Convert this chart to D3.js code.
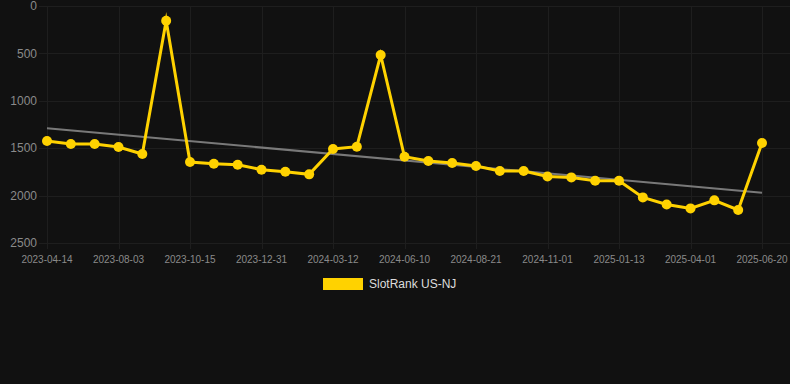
<!DOCTYPE html>
<html>
<head>
<meta charset="utf-8">
<script src="https://cdn.jsdelivr.net/npm/d3@7"></script>
<style>
  body { margin: 0; background: #111111; }
  svg { display: block; font-family: "Liberation Sans", Arial, sans-serif; }
</style>
</head>
<body>
<svg id="chart"></svg>
<script>
// dates of each rank snapshot (every third one is labelled on the axis)
const dates = [
  "2023-04-14", "2023-05-21", "2023-06-27", "2023-08-03", "2023-08-27", "2023-09-20",
  "2023-10-15", "2023-11-10", "2023-12-05", "2023-12-31", "2024-01-24", "2024-02-17",
  "2024-03-12", "2024-04-11", "2024-05-11", "2024-06-10", "2024-07-04", "2024-07-28",
  "2024-08-21", "2024-09-14", "2024-10-08", "2024-11-01", "2024-11-25", "2024-12-19",
  "2025-01-13", "2025-02-08", "2025-03-06", "2025-04-01", "2025-04-27", "2025-05-23",
  "2025-06-20"
]
const ranks = [
  1424, 1456, 1456, 1487, 1561, 155,
  1646, 1664, 1674, 1727, 1748, 1776,
  1509, 1484, 517, 1590, 1635, 1656,
  1688, 1741, 1741, 1799, 1808, 1843,
  1843, 2019, 2093, 2135, 2050, 2152,
  1445
]
const yTicks = [0, 500, 1000, 1500, 2000, 2500]
const xTickLabels = dates.filter((d, i) => i % 3 === 0)
const seriesName = "SlotRank US-NJ"

const width = 790
const height = 384
const margin = { top: 6, left: 47, right: 28, bottom: 141 }

const svg = d3.select("#chart")
    .attr("width", width)
    .attr("height", height)

const x = d3.scalePoint()
    .domain(dates)
    .range([margin.left, width - margin.right])

const y = d3.scaleLinear()
    .domain([0, 2500])
    .range([margin.top, height - margin.bottom])

// grid
const grid = svg.append("g")
    .attr("stroke", "#1e1e1e")
    .attr("stroke-width", 1)
grid.selectAll(".hgrid")
    .data(yTicks)
    .join("line")
    .attr("class", "hgrid")
    .attr("x1", margin.left - 8)
    .attr("x2", width)
    .attr("y1", d => Math.round(y(d)) + 0.5)
    .attr("y2", d => Math.round(y(d)) + 0.5)
grid.selectAll(".vgrid")
    .data(xTickLabels)
    .join("line")
    .attr("class", "vgrid")
    .attr("x1", d => Math.round(x(d)) + 0.5)
    .attr("x2", d => Math.round(x(d)) + 0.5)
    .attr("y1", margin.top)
    .attr("y2", height - margin.bottom + 6)

// y axis labels
svg.append("g")
    .selectAll("text")
    .data(yTicks)
    .join("text")
    .attr("x", 37)
    .attr("y", d => y(d))
    .attr("dy", "0.35em")
    .attr("text-anchor", "end")
    .attr("fill", "#8a8a8a")
    .attr("font-size", 12)
    .text(d => d)

// x axis labels
svg.append("g")
    .selectAll("text")
    .data(xTickLabels)
    .join("text")
    .attr("x", d => x(d))
    .attr("y", 263)
    .attr("text-anchor", "middle")
    .attr("fill", "#8a8a8a")
    .attr("font-size", 10)
    .text(d => d)

// trend line (least squares over the points)
const n = ranks.length
const meanI = d3.mean(ranks, (d, i) => i)
const meanV = d3.mean(ranks)
const slope = d3.sum(ranks, (d, i) => (i - meanI) * (d - meanV)) / d3.sum(ranks, (d, i) => (i - meanI) ** 2)
const icpt = meanV - slope * meanI
svg.append("line")
    .attr("x1", x(dates[0]))
    .attr("x2", x(dates[n - 1]))
    .attr("y1", y(icpt))
    .attr("y2", y(icpt + slope * (n - 1)))
    .attr("stroke", "#8c8c8c")
    .attr("stroke-opacity", 0.85)
    .attr("stroke-width", 2)

const data = dates.map((d, i) => ({ date: d, rank: ranks[i] }))

const line = d3.line()
    .x(d => x(d.date))
    .y(d => y(d.rank))

svg.append("path")
    .datum(data)
    .attr("fill", "none")
    .attr("stroke", "#ffd200")
    .attr("stroke-width", 3)
    .attr("stroke-miterlimit", 10)
    .attr("d", line)

svg.append("g")
    .selectAll("circle")
    .data(data)
    .join("circle")
    .attr("cx", d => x(d.date))
    .attr("cy", d => y(d.rank))
    .attr("r", 5)
    .attr("fill", "#ffd200")

// legend
const legend = svg.append("g")
legend.append("rect")
    .attr("x", 323)
    .attr("y", 278)
    .attr("width", 40)
    .attr("height", 12)
    .attr("fill", "#ffd200")
legend.append("text")
    .attr("x", 369)
    .attr("y", 284)
    .attr("dy", "0.35em")
    .attr("fill", "#dddddd")
    .attr("font-size", 12)
    .text(seriesName)
</script>
</body>
</html>
